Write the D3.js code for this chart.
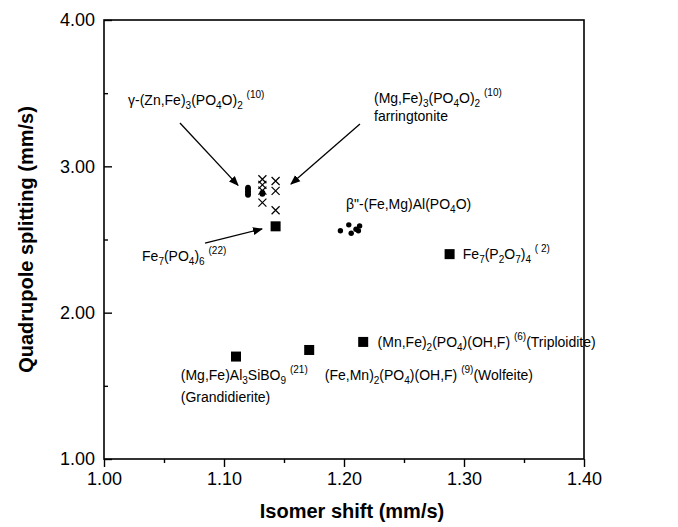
<!DOCTYPE html>
<html><head><meta charset="utf-8">
<script src="https://cdn.jsdelivr.net/npm/d3@7"></script>
<style>body{margin:0;background:#fff}svg{display:block}text{font-family:"Liberation Sans",Arial,sans-serif;fill:#000}</style>
</head><body><svg id="c" width="678" height="527"></svg>
<script>
// ---- data ----
const xTicks = [1.00, 1.10, 1.20, 1.30, 1.40];
const yTicks = [1.00, 2.00, 3.00, 4.00];
// squares: Grandidierite, Wolfeite, Triploidite, Fe7(P2O7)4, Fe7(PO4)6
const squareX = [1.110, 1.171, 1.216, 1.288, 1.143];
const squareY = [1.70, 1.745, 1.80, 2.40, 2.59];
// gamma-(Zn,Fe)3(PO4O)2 filled circles
const gammaX = [1.120, 1.120, 1.120, 1.132];
const gammaY = [2.81, 2.83, 2.85, 2.816];
// farringtonite crosses
const farrX = [1.132, 1.132, 1.132, 1.132, 1.143, 1.143, 1.143];
const farrY = [2.912, 2.873, 2.834, 2.752, 2.90, 2.832, 2.70];
// beta''-(Fe,Mg)Al(PO4O) dots
const betaX = [1.197, 1.204, 1.206, 1.210, 1.213, 1.212];
const betaY = [2.56, 2.60, 2.543, 2.57, 2.593, 2.56];

// labels: [x, y, text] with _{sub} ^{sup}
const labels = [
  [1.02, 3.42, "γ-(Zn,Fe)_{3}(PO_{4}O)_{2} ^{(10)}"],
  [1.225, 3.435, "(Mg,Fe)_{3}(PO_{4}O)_{2} ^{(10)}"],
  [1.225, 3.31, "farringtonite"],
  [1.2017, 2.71, "β\"-(Fe,Mg)Al(PO_{4}O)"],
  [1.0317, 2.35, "Fe_{7}(PO_{4})_{6} ^{(22)}"],
  [1.299, 2.367, "Fe_{7}(P_{2}O_{7})_{4} ^{( 2)}"],
  [1.228, 1.765, "(Mn,Fe)_{2}(PO_{4})(OH,F) ^{(6)}(Triploidite)"],
  [1.184, 1.54, "(Fe,Mn)_{2}(PO_{4})(OH,F) ^{(9)}(Wolfeite)"],
  [1.064, 1.54, "(Mg,Fe)Al_{3}SiBO_{9} ^{(21)}"],
  [1.064, 1.39, "(Grandidierite)"]
];
// arrows: [x1,y1,x2,y2]
const arrows = [
  [1.0633, 3.296, 1.1117, 2.87],
  [1.2133, 3.29, 1.1558, 2.879],
  [1.0842, 2.476, 1.1317, 2.572]
];

// ---- chart ----
const svg = d3.select("#c");
const x = d3.scaleLinear().domain([1.0, 1.4]).range([104, 584]);
const y = d3.scaleLinear().domain([1.0, 4.0]).range([459, 20]);

// frame
svg.append("rect").attr("x", x(1.0)).attr("y", y(4.0))
  .attr("width", x(1.4) - x(1.0)).attr("height", y(1.0) - y(4.0))
  .attr("fill", "none").attr("stroke", "#000").attr("stroke-width", 1.6);

// x axis (outward ticks)
svg.append("g").attr("transform", `translate(0,${y(1.0)})`)
  .call(d3.axisBottom(x).tickValues(xTicks).tickFormat(d3.format(".2f")).tickSize(8).tickPadding(5));
svg.append("g").attr("transform", `translate(0,${y(1.0)})`)
  .call(d3.axisBottom(x).tickValues([1.05, 1.15, 1.25, 1.35]).tickFormat("").tickSize(4));
// y axis (inward ticks)
svg.append("g").attr("transform", `translate(${x(1.0)},0)`)
  .call(d3.axisLeft(y).tickValues(yTicks).tickFormat(d3.format(".2f")).tickSize(0).tickPadding(9));
svg.append("g").attr("transform", `translate(${x(1.0)},0)`)
  .call(d3.axisRight(y).tickValues(yTicks).tickFormat("").tickSize(8));
svg.append("g").attr("transform", `translate(${x(1.0)},0)`)
  .call(d3.axisRight(y).tickValues([1.5, 2.5, 3.5]).tickFormat("").tickSize(4));
svg.selectAll(".domain").remove();
svg.selectAll(".tick line").attr("stroke", "#000").attr("stroke-width", 1.4);
svg.selectAll(".tick text").style("font-size", "18px").style("font-family", '"Liberation Sans",Arial,sans-serif');

// axis titles
svg.append("text").attr("x", (x(1.0) + x(1.4)) / 2 + 8).attr("y", 518).attr("text-anchor", "middle")
  .style("font-size", "20px").style("font-weight", "bold").text("Isomer shift (mm/s)");
svg.append("text").attr("transform", `translate(33,${(y(1) + y(4)) / 2}) rotate(-90)`).attr("text-anchor", "middle")
  .style("font-size", "20px").style("font-weight", "bold").text("Quadrupole splitting (mm/s)");

// marks
const sq = 10;
svg.append("g").selectAll("rect").data(squareX).join("rect")
  .attr("x", (d) => x(d) - sq / 2).attr("y", (d, i) => y(squareY[i]) - sq / 2)
  .attr("width", sq).attr("height", sq).attr("fill", "#000");
svg.append("g").selectAll("ellipse").data(gammaX).join("ellipse")
  .attr("cx", (d) => x(d)).attr("cy", (d, i) => y(gammaY[i])).attr("rx", 3).attr("ry", 3.5).attr("fill", "#000");
const cs = 4;
svg.append("g").selectAll("path").data(farrX).join("path")
  .attr("d", (d, i) => { const cx = x(d), cy = y(farrY[i]); return `M${cx-cs},${cy-cs}L${cx+cs},${cy+cs}M${cx-cs},${cy+cs}L${cx+cs},${cy-cs}`; })
  .attr("stroke", "#000").attr("stroke-width", 1.2).attr("fill", "none");
svg.append("g").selectAll("circle").data(betaX).join("circle")
  .attr("cx", (d) => x(d)).attr("cy", (d, i) => y(betaY[i])).attr("r", 2.7).attr("fill", "#000");

// arrows
svg.append("defs").append("marker").attr("id", "ah").attr("viewBox", "0 0 10 10").attr("refX", 9).attr("refY", 5)
  .attr("markerWidth", 10).attr("markerHeight", 10).attr("orient", "auto").attr("markerUnits", "userSpaceOnUse")
  .append("path").attr("d", "M0,1L10,5L0,9Z").attr("fill", "#000");
svg.append("g").selectAll("line").data(arrows).join("line")
  .attr("x1", (d) => x(d[0])).attr("y1", (d) => y(d[1])).attr("x2", (d) => x(d[2])).attr("y2", (d) => y(d[3]))
  .attr("stroke", "#000").attr("stroke-width", 1.3).attr("marker-end", "url(#ah)");

// labels with sub/superscripts
function rich(sel, str) {
  const re = /(_\{[^}]*\}|\^\{[^}]*\})/;
  const parts = str.split(re).filter((p) => p.length);
  let shift = 0;
  parts.forEach((p) => {
    let t = p, s = 0, fs = null;
    if (p.startsWith("_{")) { t = p.slice(2, -1); s = 4; fs = "10px"; }
    else if (p.startsWith("^{")) { t = p.slice(2, -1); s = -7; fs = "10px"; }
    const ts = sel.append("tspan").attr("dy", s - shift).text(t);
    if (fs) ts.style("font-size", fs);
    shift = s;
  });
}
labels.forEach((l) => {
  const t = svg.append("text").attr("x", x(l[0])).attr("y", y(l[1])).style("font-size", "14px");
  rich(t, l[2]);
});
</script></body></html>
